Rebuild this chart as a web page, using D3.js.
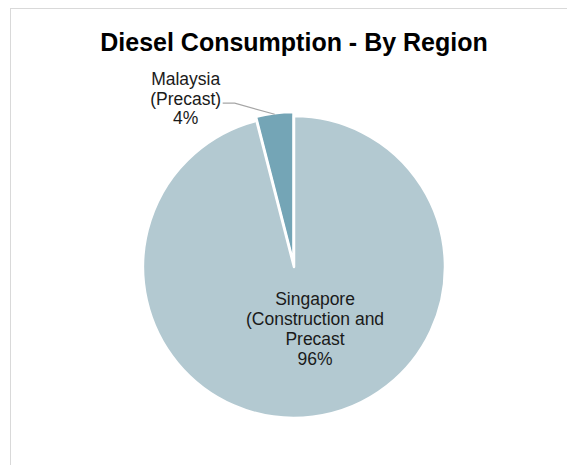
<!DOCTYPE html>
<html>
<head>
<meta charset="utf-8">
<script src="https://cdn.jsdelivr.net/npm/d3@7"></script>
<style>
  body { margin: 0; background: #fff; }
  text { font-family: "Liberation Sans", Arial, sans-serif; }
</style>
</head>
<body>
<div class="chart"></div>
<script>
const regions = ['Malaysia (Precast)', 'Singapore (Construction and Precast'];
const labelLines = [['Malaysia', '(Precast)', '4%'], ['Singapore', '(Construction and', 'Precast', '96%']];
const shares = [4, 96];
const colors = ['#74a5b6', '#b3c9d1'];

const w = 567;
const h = 465;
const cx = 294;
const cy = 267;
const r = 151;

const svg = d3.select('.chart')
  .append('svg')
  .attr('width', w)
  .attr('height', h);

// chart frame
svg.append('rect')
  .attr('x', 10.5).attr('y', 8.5)
  .attr('width', w + 20).attr('height', h + 20)
  .attr('fill', '#fff')
  .attr('stroke', '#d9d9d9');

svg.append('text')
  .attr('x', cx).attr('y', 50.5)
  .attr('text-anchor', 'middle')
  .attr('style', 'font-size:25px;font-weight:bold;')
  .attr('fill', '#000')
  .text('Diesel Consumption - By Region');

const data = regions.map((name, i) => ({ name, value: shares[i], lines: labelLines[i], color: colors[i] }));

// start at 12 o'clock, Malaysia sits just left of the top
const pie = d3.pie().sort(null).value(d => d.value)
  .startAngle(-2 * Math.PI * shares[0] / 100)
  .endAngle(2 * Math.PI - 2 * Math.PI * shares[0] / 100);
const arcs = pie(data);
const arc = d3.arc().innerRadius(0).outerRadius(r);
const explode = [4, 0];

const g = svg.append('g').attr('transform', `translate(${cx}, ${cy})`);

g.selectAll('path')
  .data(arcs)
  .enter()
  .append('path')
  .attr('d', arc)
  .attr('fill', d => d.data.color)
  .attr('stroke', '#fff')
  .attr('stroke-width', 2.5)
  .attr('stroke-linejoin', 'round')
  .attr('transform', (d, i) => {
    const a = (d.startAngle + d.endAngle) / 2;
    return `translate(${Math.sin(a) * explode[i]}, ${-Math.cos(a) * explode[i]})`;
  });

// Malaysia label outside with leader line
const m = arcs[0];
const mA = (m.startAngle + m.endAngle) / 2;
const edge = [Math.sin(mA) * (r + explode[0] - 1), -Math.cos(mA) * (r + explode[0] - 1)];
const mLabel = [edge[0] - 89, edge[1] - 29];
g.append('polyline')
  .attr('points', [[mLabel[0] + 37, edge[1] - 11], [mLabel[0] + 49, edge[1] - 11], edge].map(p => p.join(',')).join(' '))
  .attr('fill', 'none')
  .attr('stroke', '#a6a6a6')
  .attr('stroke-width', 1.2);

g.append('text')
  .attr('text-anchor', 'middle')
  .attr('fill', '#1a1a1a')
  .attr('style', 'font-size:17.5px;')
  .selectAll('tspan')
  .data(m.data.lines)
  .enter()
  .append('tspan')
  .attr('x', mLabel[0])
  .attr('y', (_, i) => mLabel[1] + i * 19.5)
  .text(d => d);

// Singapore label inside
const s = arcs[1];
const sPos = d3.arc().innerRadius(72).outerRadius(72).centroid(s);
g.append('text')
  .attr('text-anchor', 'middle')
  .attr('fill', '#1a1a1a')
  .attr('style', 'font-size:17.5px;')
  .selectAll('tspan')
  .data(s.data.lines)
  .enter()
  .append('tspan')
  .attr('x', sPos[0] + 12)
  .attr('y', (_, i) => sPos[1] - 33 + i * 19.7)
  .text(d => d);
</script>
</body>
</html>
